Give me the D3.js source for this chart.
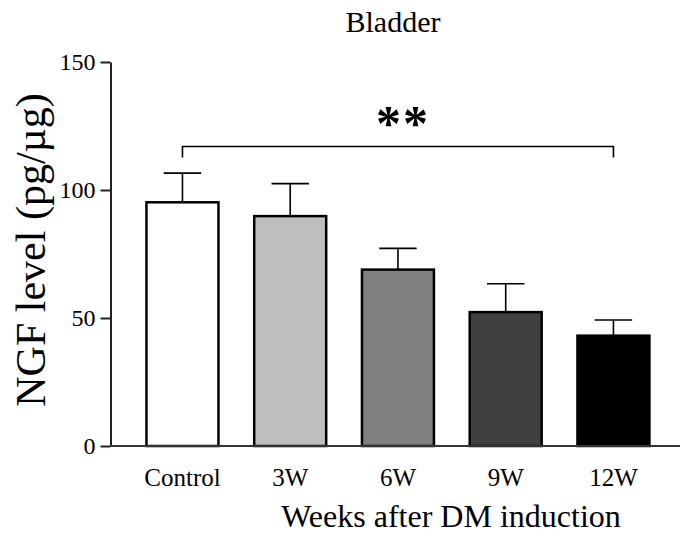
<!DOCTYPE html>
<html>
<head>
<meta charset="utf-8">
<script src="https://cdn.jsdelivr.net/npm/d3@7"></script>
<style>
  html, body { margin: 0; padding: 0; background: #fff; }
  svg { display: block; }
  svg text { font-family: "Liberation Serif", "Times New Roman", serif !important; fill: #000; }
</style>
</head>
<body>
<svg id="chart" width="680" height="535" font-family="Liberation Serif, serif"></svg>
<script>
// NGF level in bladder tissue by time after diabetes induction
const groups = ["Control", "3W", "6W", "9W", "12W"];
const means  = [95.2, 89.8, 68.9, 52.3, 43.1];
const sems   = [11.4, 12.7, 8.3, 11.1, 6.1];
const fills  = ["#ffffff", "#bebebe", "#7f7f7f", "#404040", "#000000"];
const yTicks = [0, 50, 100, 150];
const sigPair = ["Control", "12W"];
const sigLabel = "**";

const SERIF = '"Liberation Serif", "Times New Roman", serif';
const svg = d3.select("#chart");

const y = d3.scaleLinear().domain([0, 150]).range([446, 62]);
const x = d3.scaleBand().domain(groups).range([110.7, 685.2]).paddingInner(0.332).paddingOuter(0.332);

// y axis
const yAxis = svg.append("g")
  .attr("transform", "translate(110.5,0)")
  .call(d3.axisLeft(y).tickValues(yTicks).tickSize(10).tickPadding(5).tickSizeOuter(0));
yAxis.attr("font-family", null);
yAxis.select(".domain").attr("stroke", "#222").attr("stroke-width", 2);
yAxis.selectAll(".tick line").attr("stroke", "#222").attr("stroke-width", 2);
yAxis.selectAll(".tick text")
  .style("font-family", SERIF)
  .style("font-size", "24px")
  .attr("fill", "#000");

// bars
svg.append("g").selectAll("rect")
  .data(groups)
  .join("rect")
  .attr("x", d => x(d))
  .attr("y", (d, i) => y(means[i]))
  .attr("width", x.bandwidth())
  .attr("height", (d, i) => y(0) - y(means[i]))
  .attr("fill", (d, i) => fills[i])
  .attr("stroke", "#000")
  .attr("stroke-width", 2.5);

// error bars (upper only)
const capHalf = x.bandwidth() * 0.26;
const eb = svg.append("g").attr("stroke", "#000").attr("stroke-width", 1.6);
groups.forEach((g, i) => {
  const cx = x(g) + x.bandwidth() / 2;
  eb.append("line")
    .attr("x1", cx).attr("x2", cx)
    .attr("y1", y(means[i])).attr("y2", y(means[i] + sems[i]));
  eb.append("line")
    .attr("x1", cx - capHalf).attr("x2", cx + capHalf)
    .attr("y1", y(means[i] + sems[i])).attr("y2", y(means[i] + sems[i]));
});

// x axis baseline
const xAxis = svg.append("g")
  .attr("transform", "translate(0,446)")
  .call(d3.axisBottom(x).tickSize(0).tickPadding(22).tickSizeOuter(0));
xAxis.attr("font-family", null);
xAxis.select(".domain").attr("stroke", "#333").attr("stroke-width", 2)
  .attr("d", "M110,0H680");
xAxis.selectAll(".tick text")
  .style("font-family", SERIF)
  .style("font-size", "25px")
  .attr("fill", "#000");

// significance bracket
const bx1 = x(sigPair[0]) + x.bandwidth() / 2;
const bx2 = x(sigPair[1]) + x.bandwidth() / 2;
svg.append("path")
  .attr("d", `M${bx1},157.5V146.5H${bx2}V157.5`)
  .attr("fill", "none")
  .attr("stroke", "#000")
  .attr("stroke-width", 1.6);
svg.append("text")
  .attr("x", (bx1 + bx2) / 2 + 5)
  .attr("y", 140)
  .attr("text-anchor", "middle")
  .style("font-family", SERIF)
  .style("font-size", "50px")
  .style("font-weight", "bold")
  .attr("letter-spacing", 2)
  .text(sigLabel);

// titles
svg.append("text")
  .attr("x", 393).attr("y", 31.5)
  .attr("text-anchor", "middle")
  .style("font-family", SERIF)
  .style("font-size", "30px")
  .text("Bladder");

svg.append("text")
  .attr("x", 451).attr("y", 527)
  .attr("text-anchor", "middle")
  .style("font-family", SERIF)
  .style("font-size", "32px")
  .text("Weeks after DM induction");

svg.append("text")
  .attr("transform", "translate(45,250) rotate(-90)")
  .attr("text-anchor", "middle")
  .style("font-family", SERIF)
  .style("font-size", "42px")
  .text("NGF level (pg/µg)");
</script>
</body>
</html>
